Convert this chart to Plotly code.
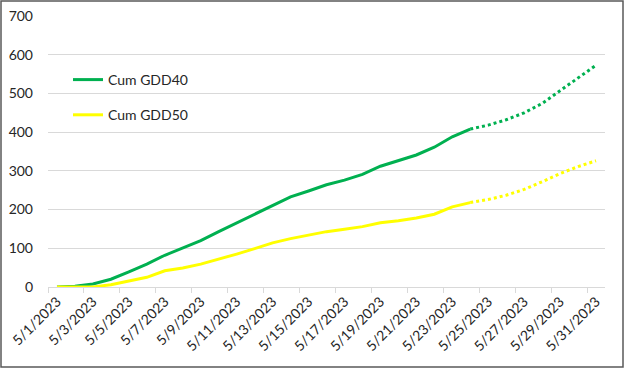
import plotly.graph_objects as go
import pandas as pd

dates = pd.date_range("2023-05-01", "2023-05-31", freq="D")
gdd40_obs = [0, 2, 8, 20, 39, 59, 82, 100, 120, 143, 166, 188, 211, 233, 248, 264, 276, 291, 312, 327, 341, 361, 388, 408]
gdd40_fcst = [408, 418, 432, 450, 474, 507, 539, 573]
gdd50_obs = [0, 0, 0, 6, 16, 25, 42, 49, 59, 71, 85, 99, 114, 125, 134, 143, 149, 156, 166, 171, 178, 188, 207, 218]
gdd50_fcst = [218, 226, 237, 252, 272, 293, 311, 326]

tick_dates = dates[::2]
tick_labels = [f"{d.month}/{d.day}/{d.year}" for d in tick_dates]
boundary_ticks = [d - pd.Timedelta(hours=12) for d in tick_dates]

GREEN = "#00B050"
YELLOW = "#FFFF00"
obs_x = dates[:len(gdd40_obs)]
fc_x = dates[len(gdd40_obs) - 1:]

fig = go.Figure()
fig.add_trace(go.Scatter(x=obs_x, y=gdd40_obs, mode="lines", name="Cum GDD40",
                         line=dict(color=GREEN, width=3), legendgroup="a"))
fig.add_trace(go.Scatter(x=fc_x, y=gdd40_fcst, mode="lines", showlegend=False,
                         line=dict(color=GREEN, width=3, dash="dot"), legendgroup="a"))
fig.add_trace(go.Scatter(x=obs_x, y=gdd50_obs, mode="lines", name="Cum GDD50",
                         line=dict(color=YELLOW, width=3), legendgroup="b"))
fig.add_trace(go.Scatter(x=fc_x, y=gdd50_fcst, mode="lines", showlegend=False,
                         line=dict(color=YELLOW, width=3, dash="dot"), legendgroup="b"))

L, R, T, B = 48, 19, 16, 81
W, H = 624, 368
pw, ph = W - L - R, H - T - B

fig.update_layout(
    width=W, height=H,
    margin=dict(l=L, r=R, t=T, b=B, autoexpand=False),
    paper_bgcolor="white", plot_bgcolor="white",
    font=dict(family="Lato", size=14, color="#262626"),
    legend=dict(x=(68 - L) / pw, y=(287 - 64) / ph, xanchor="left", yanchor="top",
                bgcolor="rgba(0,0,0,0)", tracegroupgap=14, font=dict(size=14)),
    shapes=[dict(type="rect", xref="paper", yref="paper",
                 x0=(1 - L) / pw, x1=(W - 1 - L) / pw,
                 y0=(287 - (H - 1)) / ph, y1=(287 - 1) / ph,
                 line=dict(color="#595959", width=1.5))],
)
fig.update_xaxes(
    automargin=False,
    range=[dates[0] - pd.Timedelta(hours=12), dates[-1] + pd.Timedelta(hours=12)],
    tickmode="array", tickvals=list(tick_dates), ticktext=tick_labels,
    tickangle=-45, ticks="", showgrid=False,
    showline=True, linecolor="#d9d9d9", linewidth=1,
    minor=dict(tickmode="array", tickvals=boundary_ticks, ticks="outside",
               ticklen=5, tickcolor="#d9d9d9", tickwidth=1, showgrid=False),
    zeroline=False,
)
fig.update_yaxes(
    automargin=False,
    range=[0, 700], tickmode="linear", tick0=0, dtick=100,
    showgrid=True, gridcolor="#d9d9d9", gridwidth=1,
    zeroline=False, showline=False, ticks="", ticklabelstandoff=14,
)
fig.write_html("out.html", config={"displayModeBar": False},
               post_script="document.body.style.margin='0';document.body.style.overflow='hidden';")
